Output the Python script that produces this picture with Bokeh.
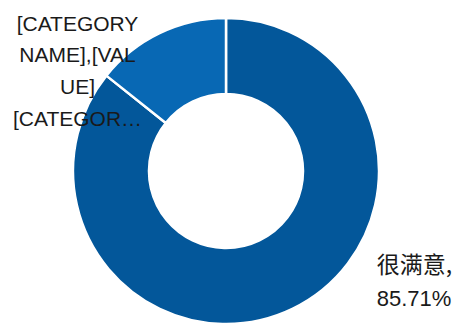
import math
from bokeh.plotting import figure
from bokeh.models import Range1d, ColumnDataSource
from bokeh.core.properties import value
from bokeh.embed import file_html
from bokeh.resources import INLINE

# ---- data ----
categories = ["很满意", "[CATEGORY NAME]"]
values = [85.71, 14.29]
colors = ["#03579A", "#0868B4"]
label_a_lines = ["[CATEGORY", "NAME],[VAL", "UE]", "[CATEGOR…"]
label_b_lines = ["很满意,", "85.71%"]

# ---- figure (data units == reference pixels, y flipped to upward) ----
W, H = 456, 324
p = figure(width=W, height=H, output_backend="svg", toolbar_location=None,
           x_range=Range1d(0, W), y_range=Range1d(0, H), min_border=0)
p.axis.visible = False
p.grid.visible = False
p.outline_line_color = None
p.background_fill_color = "white"
p.border_fill_color = "white"

cx, cy = 225.5, H - 170.5
total = sum(values)
starts, ends = [], []
a = math.pi / 2
for v in values:
    starts.append(a)
    a = a - 2 * math.pi * v / total
    ends.append(a)

src = ColumnDataSource(dict(cat=categories, val=values, start=starts, end=ends, color=colors))
p.annular_wedge(x=cx, y=cy, inner_radius=77, outer_radius=153,
                start_angle="start", end_angle="end", direction="clock",
                fill_color="color", line_color="white", line_width=2.5, source=src)

# ---- labels ----
ya = [H - (22.5 + i * 31.7) for i in range(len(label_a_lines))]
p.text(x=[77] * len(label_a_lines), y=ya, text=label_a_lines,
       text_align="center", text_baseline="middle",
       text_font=value("Liberation Sans"), text_font_size="21px", text_color="#1a1a1a")

p.text(x=[414], y=[H - 262], text=[label_b_lines[0]],
       text_align="center", text_baseline="middle",
       text_font=value("Noto Sans CJK SC"), text_font_size="23px", text_color="#1a1a1a")
p.text(x=[413.5], y=[H - 298], text=[label_b_lines[1]],
       text_align="center", text_baseline="middle",
       text_font=value("Liberation Sans"), text_font_size="22px", text_color="#1a1a1a")

open("out.html", "w").write(file_html(p, INLINE))
